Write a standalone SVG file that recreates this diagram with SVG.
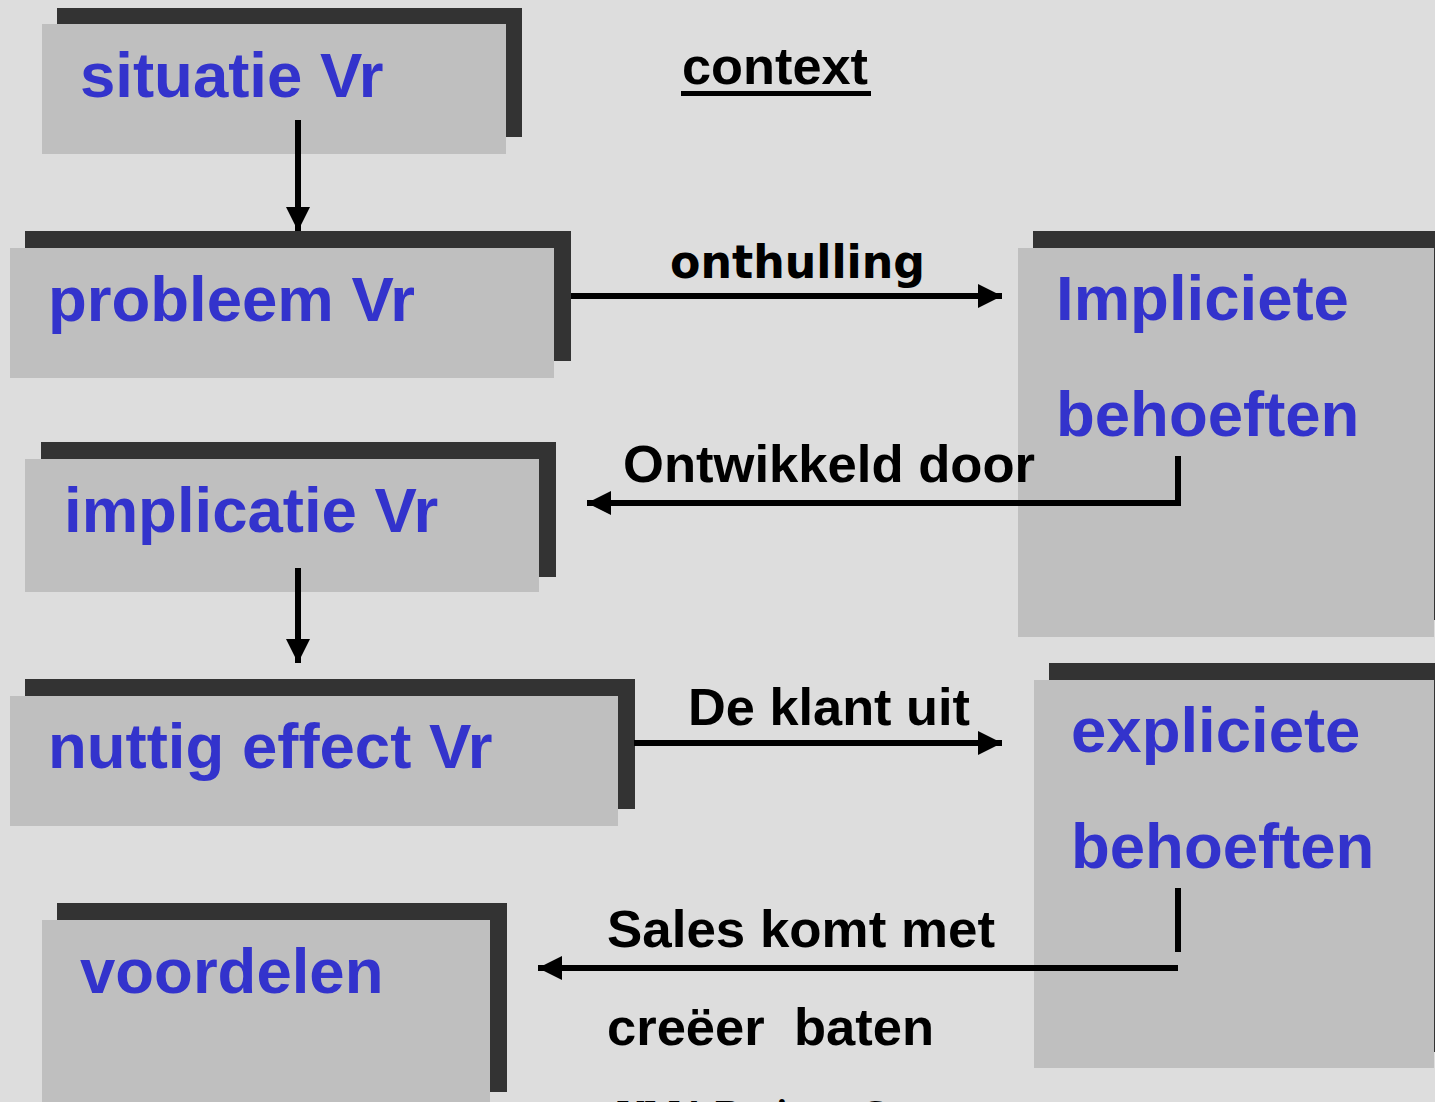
<svg xmlns="http://www.w3.org/2000/svg" width="1435" height="1102" viewBox="0 0 1435 1102">
<defs>
<style>
.shadow{fill:#333333}
.box{fill:#bfbfbf}
.nt{font-family:"Liberation Sans",Arial,sans-serif;font-weight:bold;font-size:63.5px;fill:#3333cc}
.lb{font-family:"Liberation Sans",Arial,sans-serif;font-weight:bold;font-size:52px;fill:#000000}
.ln{stroke:#000000;stroke-width:6;fill:none}
</style>
<marker id="ah" markerUnits="userSpaceOnUse" markerWidth="25" markerHeight="25" refX="24" refY="12" orient="auto">
<path d="M0,0 L24,12 L0,24 z" fill="#000000"/>
</marker>
</defs>
<rect x="0" y="0" width="1435" height="1102" fill="#dddddd"/>

<g id="node-situatie">
<rect class="shadow" x="57" y="8" width="465" height="129"/>
<rect class="box" x="42" y="24" width="464" height="130"/>
<text class="nt" x="80" y="97">situatie Vr</text>
</g>

<g id="node-probleem">
<rect class="shadow" x="25" y="231" width="546" height="130"/>
<rect class="box" x="10" y="248" width="544" height="130"/>
<text class="nt" x="48" y="321">probleem Vr</text>
</g>

<g id="node-implicatie">
<rect class="shadow" x="41" y="442" width="515" height="135"/>
<rect class="box" x="25" y="459" width="514" height="133"/>
<text class="nt" x="64" y="532">implicatie Vr</text>
</g>

<g id="node-nuttig">
<rect class="shadow" x="25" y="679" width="610" height="130"/>
<rect class="box" x="10" y="696" width="608" height="130"/>
<text class="nt" x="48" y="768">nuttig effect Vr</text>
</g>

<g id="node-voordelen">
<rect class="shadow" x="57" y="903" width="450" height="189"/>
<rect class="box" x="42" y="920" width="448" height="190"/>
<text class="nt" x="80" y="993">voordelen</text>
</g>

<g id="node-impliciete">
<rect class="shadow" x="1033" y="231" width="410" height="389"/>
<rect class="box" x="1018" y="248" width="416" height="389"/>
<text class="nt" x="1056" y="320">Impliciete</text>
<text class="nt" x="1056" y="436">behoeften</text>
</g>

<g id="node-expliciete">
<rect class="shadow" x="1049" y="663" width="400" height="389"/>
<rect class="box" x="1034" y="680" width="400" height="388"/>
<text class="nt" x="1071" y="752">expliciete</text>
<text class="nt" x="1071" y="868">behoeften</text>
</g>

<g id="context-label">
<text class="lb" x="682" y="84" textLength="186" lengthAdjust="spacingAndGlyphs">context</text>
<rect x="681" y="91" width="190" height="5" fill="#000000"/>
</g>

<g id="connectors">
<line class="ln" x1="298" y1="120" x2="298" y2="231" marker-end="url(#ah)"/>
<line class="ln" x1="571" y1="296" x2="1002" y2="296" marker-end="url(#ah)"/>
<polyline class="ln" points="1178,456 1178,503 587,503" marker-end="url(#ah)"/>
<line class="ln" x1="298" y1="568" x2="298" y2="663" marker-end="url(#ah)"/>
<line class="ln" x1="634" y1="743" x2="1002" y2="743" marker-end="url(#ah)"/>
<line class="ln" x1="1178" y1="888" x2="1178" y2="952"/>
<line class="ln" x1="1178" y1="968" x2="538" y2="968" marker-end="url(#ah)"/>
<text x="670" y="278" font-family="'DejaVu Sans',sans-serif" font-weight="bold" font-size="46" textLength="255" lengthAdjust="spacingAndGlyphs">onthulling</text>
<text class="lb" x="623" y="482" textLength="412" lengthAdjust="spacingAndGlyphs">Ontwikkeld door</text>
<text class="lb" x="688" y="725" textLength="282" lengthAdjust="spacingAndGlyphs">De klant uit</text>
<text class="lb" x="607" y="947" textLength="388" lengthAdjust="spacingAndGlyphs">Sales komt met</text>
<text class="lb" x="607" y="1045" textLength="327" lengthAdjust="spacingAndGlyphs" xml:space="preserve">creëer  baten</text>
</g>

<text x="617" y="1126" font-family="'Liberation Serif',serif" font-weight="bold" font-size="38" fill="#000000">VMA Business S</text>
</svg>
